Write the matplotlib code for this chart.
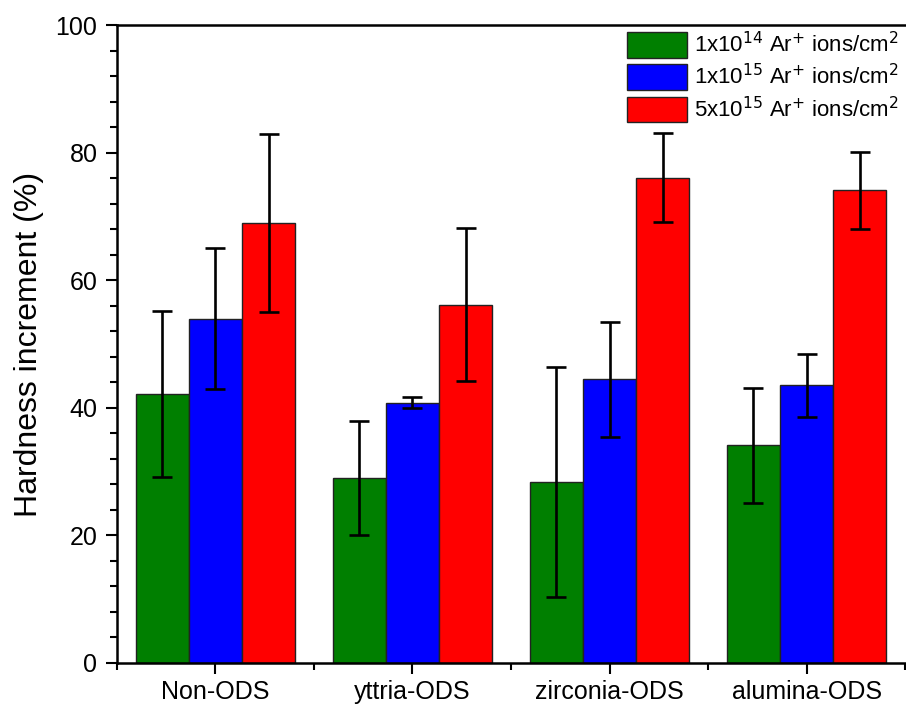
import numpy as np
import matplotlib.pyplot as plt
from matplotlib.ticker import MultipleLocator, FixedLocator

plt.rcParams['font.family'] = ['Liberation Sans', 'DejaVu Sans']

# Data
categories = ['Non-ODS', 'yttria-ODS', 'zirconia-ODS', 'alumina-ODS']
series_labels = [r'1x10$^{14}$ Ar$^{+}$ ions/cm$^{2}$',
                 r'1x10$^{15}$ Ar$^{+}$ ions/cm$^{2}$',
                 r'5x10$^{15}$ Ar$^{+}$ ions/cm$^{2}$']
dose_1e14 = [42.2, 29.0, 28.4, 34.1]
dose_1e15 = [54.0, 40.8, 44.5, 43.5]
dose_5e15 = [69.0, 56.2, 76.1, 74.1]
err_1e14 = [13.0, 9.0, 18.0, 9.0]
err_1e15 = [11.0, 0.9, 9.0, 5.0]
err_5e15 = [14.0, 12.0, 7.0, 6.0]

colors = ['#007F00', '#0000FF', '#FF0000']

fig = plt.figure(figsize=(9.06, 7.09), dpi=100)
ax = fig.add_axes([0.129, 0.065, 0.870, 0.8995])

x = np.arange(1, len(categories) + 1)
width = 0.27
values = [dose_1e14, dose_1e15, dose_5e15]
errors = [err_1e14, err_1e15, err_5e15]

for i, (vals, errs) in enumerate(zip(values, errors)):
    pos = x + (i - 1) * width
    ax.bar(pos, vals, width, color=colors[i], edgecolor='#222222', linewidth=1.0,
           label=series_labels[i], zorder=2)
    ax.errorbar(pos, vals, yerr=errs, fmt='none', ecolor='black', elinewidth=1.9,
                capsize=7, capthick=1.9, zorder=3)

ax.set_xlim(0.5, 4.5)
ax.set_ylim(0, 100)
ax.set_xticks(x)
ax.set_xticklabels(categories)
ax.xaxis.set_minor_locator(FixedLocator([0.5, 1.5, 2.5, 3.5, 4.5]))
ax.yaxis.set_major_locator(MultipleLocator(20))
ax.yaxis.set_minor_locator(MultipleLocator(4))

ax.tick_params(axis='both', which='major', direction='out', length=8, width=1.5,
               labelsize=18, pad=6)
ax.tick_params(axis='both', which='minor', direction='out', length=5, width=1.5)
ax.tick_params(axis='x', which='major', pad=4)

for side in ['left', 'bottom', 'top']:
    ax.spines[side].set_linewidth(1.8)
ax.spines['right'].set_visible(False)

ax.set_ylabel('Hardness increment (%)', fontsize=23, labelpad=8)

ax.legend(loc='upper right', fontsize=16, frameon=False, handlelength=2.7,
          handleheight=1.4, handletextpad=0.3, labelspacing=0.3,
          borderaxespad=0.1, borderpad=0.2)

fig.savefig('out.png', dpi=100)
